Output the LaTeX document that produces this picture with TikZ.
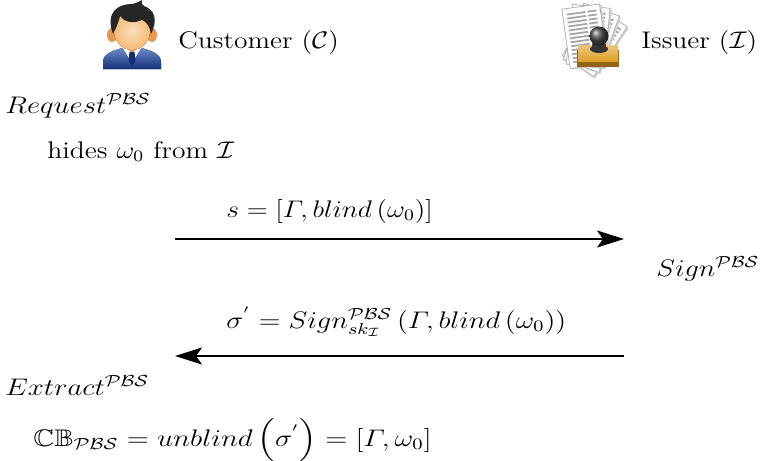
\documentclass[tikz,border=0pt]{standalone}
\usepackage{amsmath,amssymb}
\usetikzlibrary{arrows.meta}
\definecolor{skin}{RGB}{250,196,130}
\definecolor{skindark}{RGB}{232,150,80}
\definecolor{suit}{RGB}{45,90,185}
\definecolor{suitdark}{RGB}{20,45,120}
\definecolor{gold}{RGB}{222,160,40}
\definecolor{golddark}{RGB}{150,100,20}
% labels are set slightly wide
\newcommand{\widetxt}[2][1.15]{\scalebox{#1}[1]{#2}}
\begin{document}
\begin{tikzpicture}[x=0.5pt,y=-0.5pt,
  lbl/.style={anchor=base west,inner sep=0pt,font=\fontsize{12}{14}\selectfont},
  msg/.style={line width=0.8pt,-{Stealth[length=13.5pt,width=8.5pt,inset=3pt]}},
  sheet/.style={draw=gray!60,fill=white,line width=0.4pt},
  txtline/.style={draw=gray!70,line width=0.9pt}]
\useasboundingbox (0,0) rectangle (762,461);

% ---- customer avatar ----
\begin{scope}
  % suit
  \fill[top color=suit!70!white,bottom color=suitdark]
    (103,69) -- (103,62) .. controls (103,54) and (112,51) .. (122,48)
    -- (142,48) .. controls (152,51) and (161,54) .. (161,62) -- (161,69) -- cycle;
  % neck
  \fill[skindark] (124,42) -- (140,42) -- (138,50) -- (132,54) -- (126,50) -- cycle;
  % shirt and tie
  \fill[white] (123,48) -- (132,63) -- (141,48) -- (137,48) -- (132,54) -- (127,48) -- cycle;
  \fill[suitdark] (129.5,52) -- (134.5,52) -- (135.5,61) -- (132,66) -- (128.5,61) -- cycle;
  % ears
  \fill[skindark] (112,35) ellipse (5 and 7);
  \fill[skindark] (152,35) ellipse (5 and 7);
  % face
  \fill[inner color=skin!55!white,outer color=skin!80!skindark] (132,31) ellipse (18 and 19);
  % hair
  \fill[black!85]
    (113,34) .. controls (105,12) and (118,4) .. (132,4)
    .. controls (137,3) and (140,1) .. (142,0)
    .. controls (141,3) and (142,5) .. (144,6)
    .. controls (155,10) and (158,20) .. (151,34)
    .. controls (150,27) and (147,22) .. (142,20)
    .. controls (133,24) and (124,22) .. (120,16)
    .. controls (118,24) and (116,28) .. (113,34) -- cycle;
\end{scope}
\node[lbl] (cust) at (178,48) {\widetxt{Customer ($\mathcal{C}$)}};

% ---- issuer: papers and stamp ----
\begin{scope}
  \foreach \a/\dx in {-34/-6,-20/-3,-6/1,8/5}{
    \begin{scope}[shift={(584+\dx,66)},rotate=\a]
      \fill[gray!35] (-18,-59) rectangle (21,1);
      \path[sheet] (-19,-60) rectangle (19,0);
      \foreach \yy in {-54,-50,...,-6}{
        \draw[txtline] (-15,\yy) -- (4,\yy);
        \draw[txtline] (6,\yy) -- (15,\yy);
      }
    \end{scope}
  }
  % stamp base
  \fill[golddark] (577,50) rectangle (619,67);
  \fill[top color=gold!60!white,bottom color=gold] (578,45) rectangle (618,61);
  % stamp handle
  \fill[black!80] (599,49) ellipse (9 and 4);
  \fill[black!80] (594,38) -- (604,38) -- (603,48) -- (595,48) -- cycle;
  \fill[black!80] (599,45) ellipse (7 and 4);
  \shade[ball color=black!70] (599,36) circle (9.5);
\end{scope}
\node[lbl] (iss) at (641,48) {\widetxt{Issuer ($\mathcal{I}$)}};

% ---- protocol steps ----
\node[lbl] (req) at (5,113) {\widetxt[1.2]{$Request^{\mathcal{PBS}}$}};
\node[lbl] (hide) at (47,158) {\widetxt{hides $\omega_0$ from $\mathcal{I}$}};

\coordinate (c1) at (175,239);
\coordinate (i1) at (624,239);
\draw[msg] (c1) -- (i1);
\node[lbl] (m1) at (226,217) {\widetxt{$s=\left[\varGamma, blind\left(\omega_0\right)\right]$}};

\node[lbl] (sign) at (656,276) {\widetxt[1.18]{$Sign^{\mathcal{PBS}}$}};

\coordinate (i2) at (624,356);
\coordinate (c2) at (175,356);
\draw[msg] (i2) -- (c2);
\node[lbl] (m2) at (226,328) {\widetxt[1.19]{$\sigma^{'}=Sign^{\mathcal{PBS}}_{sk_{\mathcal{I}}}\left(\varGamma, blind\left(\omega_0\right)\right)$}};

\node[lbl] (ext) at (5,395) {\widetxt[1.2]{$Extract^{\mathcal{PBS}}$}};
\node[lbl] (cb) at (33,446) {\widetxt[1.21]{$\mathbb{CB}_{\mathcal{PBS}}=unblind\mathinner{\Bigl(\sigma^{'}\Bigr)}=\left[\varGamma,\omega_0\right]$}};
\end{tikzpicture}
\end{document}
